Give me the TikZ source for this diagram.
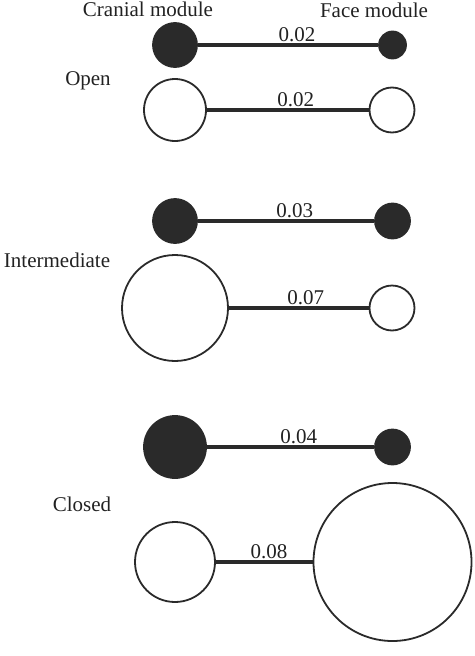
\documentclass[tikz,border=0pt]{standalone}
\usepackage{fontspec}
\setmainfont{Liberation Serif}
\usepackage{tikz}
\usetikzlibrary{positioning}
\definecolor{modDark}{HTML}{2A2A2A}
\definecolor{modText}{HTML}{222222}
\tikzset{
  lbl/.style={font=\fontsize{21}{25}\selectfont, text=modText, inner sep=0pt},
  module/.style={circle, inner sep=0pt, line width=1.8pt},
  solidmod/.style={module, draw=modDark, fill=modDark},
  openmod/.style={module, draw=modDark, fill=white},
  link/.style={line width=3.2pt, modDark},
  val/.style={lbl, above=0pt, inner sep=1.8pt, pos=0.55}
}
\begin{document}
\begin{tikzpicture}[x=1pt, y=-1pt]
  \useasboundingbox (0,0) rectangle (474,656);
  % headings and states
  \node[lbl, anchor=base] (cranial) at (148,16) {Cranial module};
  \node[lbl, anchor=base] (face) at (374,17) {Face module};
  \node[lbl, anchor=base] (open) at (88,85) {Open};
  \node[lbl, anchor=base] (inter) at (57,267) {Intermediate};
  \node[lbl, anchor=base] (closed) at (82,511) {Closed};
  % open
  \node[solidmod, minimum size=44pt] (c1) at (175,45) {};
  \node[solidmod, minimum size=27pt] (f1) at (392.5,45) {};
  \node[openmod, minimum size=62pt] (c2) at (175,110) {};
  \node[openmod, minimum size=45pt] (f2) at (392,110) {};
  % intermediate
  \node[solidmod, minimum size=44pt] (c3) at (175,221) {};
  \node[solidmod, minimum size=35pt] (f3) at (392.5,221) {};
  \node[openmod, minimum size=106pt] (c4) at (175,308) {};
  \node[openmod, minimum size=45pt] (f4) at (392,308) {};
  % closed
  \node[solidmod, minimum size=62pt] (c5) at (175,447) {};
  \node[solidmod, minimum size=35pt] (f5) at (392.5,447) {};
  \node[openmod, minimum size=80pt] (c6) at (175,562) {};
  \node[openmod, minimum size=158pt] (f6) at (392.5,562) {};
  \foreach \s/\e/\v in {c1/f1/0.02, c2/f2/0.02, c3/f3/0.03, c4/f4/0.07, c5/f5/0.04, c6/f6/0.08}{\draw[link] (\s) -- node[val] {\v} (\e);}
\end{tikzpicture}
\end{document}
